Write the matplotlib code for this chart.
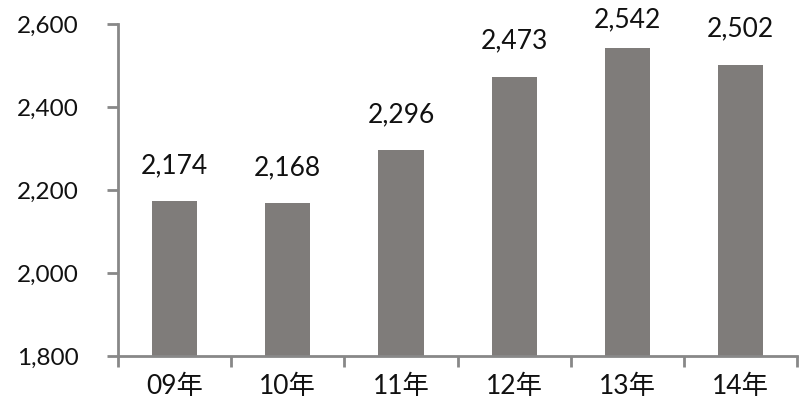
import matplotlib.pyplot as plt
import numpy as np

# data
years = ['09年', '10年', '11年', '12年', '13年', '14年']
values = [2174, 2168, 2296, 2473, 2542, 2502]
y_ticks = [1800, 2000, 2200, 2400, 2600]

plt.rcParams['font.family'] = ['Lato', 'Noto Sans CJK JP', 'DejaVu Sans']

fig = plt.figure(figsize=(8, 4.18), dpi=100)
ax = fig.add_axes([0.1475, 0.148, 0.849, 0.7946])

x = np.arange(len(years))
bars = ax.bar(x, values, width=0.4, color='#7f7c7a', zorder=2)

ax.set_xlim(-0.5, len(years) - 0.5)
ax.set_ylim(1800, 2600)

# data labels above bars, kept inside the figure like Excel does
fig_h = fig.get_size_inches()[1] * fig.dpi
for xi, v in zip(x, values):
    px, py = ax.transData.transform((xi, v))
    base = min(py + 28, fig_h - 27)
    ax.annotate(f'{v:,}', (px, base), xycoords='figure pixels',
                ha='center', va='baseline', fontsize=19, color='#111111')

ax.set_yticks(y_ticks)
ax.set_yticklabels([f'{t:,}' for t in y_ticks])

# category labels centred, tick marks at boundaries
ax.set_xticks(x)
ax.set_xticklabels(years)
ax.tick_params(axis='x', which='major', length=0, pad=13, labelsize=19, labelcolor='#111111')
ax.set_xticks(np.arange(-0.5, len(years), 1), minor=True)
ax.tick_params(axis='x', which='minor', length=8, width=2, color='#888888')
ax.tick_params(axis='y', length=8, width=2, color='#888888', labelsize=17.5,
               pad=20, labelcolor='#111111')

for s in ['top', 'right']:
    ax.spines[s].set_visible(False)
for s in ['left', 'bottom']:
    ax.spines[s].set_color('#888888')
    ax.spines[s].set_linewidth(2)

plt.savefig('out.png', dpi=100)
